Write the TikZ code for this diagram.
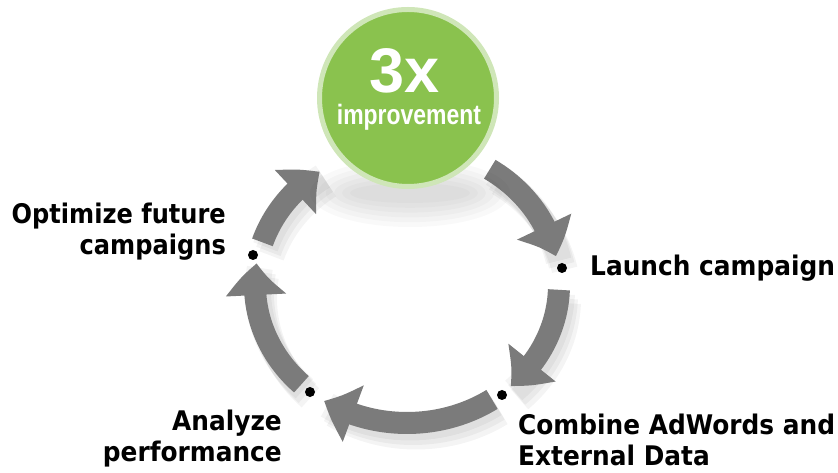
\documentclass[tikz,border=0pt]{standalone}
\usepackage{fontspec}
\setmainfont{DejaVu Sans}
\newfontfamily\arialfont{Liberation Sans}
\usetikzlibrary{arrows.meta,calc,bending}
\definecolor{ringgray}{HTML}{7B7B7B}
\definecolor{leaf}{HTML}{8AC24E}
\definecolor{leafrim}{HTML}{CFE6B8}
\tikzset{
  arcarrow/.style={draw=ringgray, line width=22pt,
    -{Triangle[length=32pt,width=58pt,bend]}},
  arcshadow/.style={draw=black, line width=26pt, opacity=0.045},
  stepdot/.style={circle, fill=black, inner sep=0pt, minimum size=10pt},
  lbl/.style={font=\bfseries\fontsize{27}{31}\selectfont, inner sep=0pt, text=black, xscale=0.92},
}
\begin{document}
\begin{tikzpicture}[x=1pt,y=1pt]
\useasboundingbox (0,0) rectangle (838,473);
\coordinate (c) at (407,188);
% shadows of arcs
\foreach \s/\e in {162/125, 57/12, -2/-47, -56/-123, 226/171}{
  \foreach \k in {3,6,9}{
    \draw[arcshadow] ($(c)+(\k,-1.5*\k)$) ++(\s:152pt and 138pt)
      arc[start angle=\s, end angle=\e, x radius=152pt, y radius=138pt];
  }
}
% arrows
\draw[arcarrow] (c) ++(162:152pt and 138pt) arc[start angle=162, end angle=125, x radius=152pt, y radius=138pt];
\draw[arcarrow] (c) ++(57:152pt and 138pt) arc[start angle=57, end angle=12, x radius=152pt, y radius=138pt];
\draw[arcarrow] (c) ++(-2:152pt and 138pt) arc[start angle=-2, end angle=-47, x radius=152pt, y radius=138pt];
\draw[arcarrow] (c) ++(-56:152pt and 138pt) arc[start angle=-56, end angle=-123, x radius=152pt, y radius=138pt];
\draw[arcarrow] (c) ++(226:152pt and 138pt) arc[start angle=226, end angle=171, x radius=152pt, y radius=138pt];
% circle shadow
\foreach \r in {0,8,16,24,32,40}{
  \fill[black, opacity=0.025] (410,280) ellipse[x radius={60+\r}, y radius={10+0.6*\r}];
}
% green circle
\node[circle, fill=leaf, draw=leafrim, line width=5pt, minimum size=177pt, inner sep=0pt] (hub) at (408,375) {};
\node[font=\arialfont\bfseries\fontsize{63}{63}\selectfont, text=white, inner sep=0pt, anchor=base] (three) at (405,380) {3x};
\node[font=\arialfont\bfseries\fontsize{28}{28}\selectfont, text=white, inner sep=0pt, anchor=base, xscale=0.82] (impr) at (409,348) {improvement};
% dots
\node[stepdot] (d1) at (253,218) {};
\node[stepdot] (d2) at (562,205) {};
\node[stepdot] (d3) at (502,78) {};
\node[stepdot] (d4) at (310,81) {};
% labels
\node[lbl, align=right, anchor=east, xscale=0.97] (opt) at (226,241) {Optimize future\\campaigns};
\node[lbl, anchor=west] (launch) at (590,205) {Launch campaign};
\node[lbl, align=left, anchor=west] (comb) at (518,33) {Combine AdWords and\\External Data};
\node[lbl, align=right, anchor=east] (ana) at (282,34) {Analyze\\performance};
\end{tikzpicture}
\end{document}
